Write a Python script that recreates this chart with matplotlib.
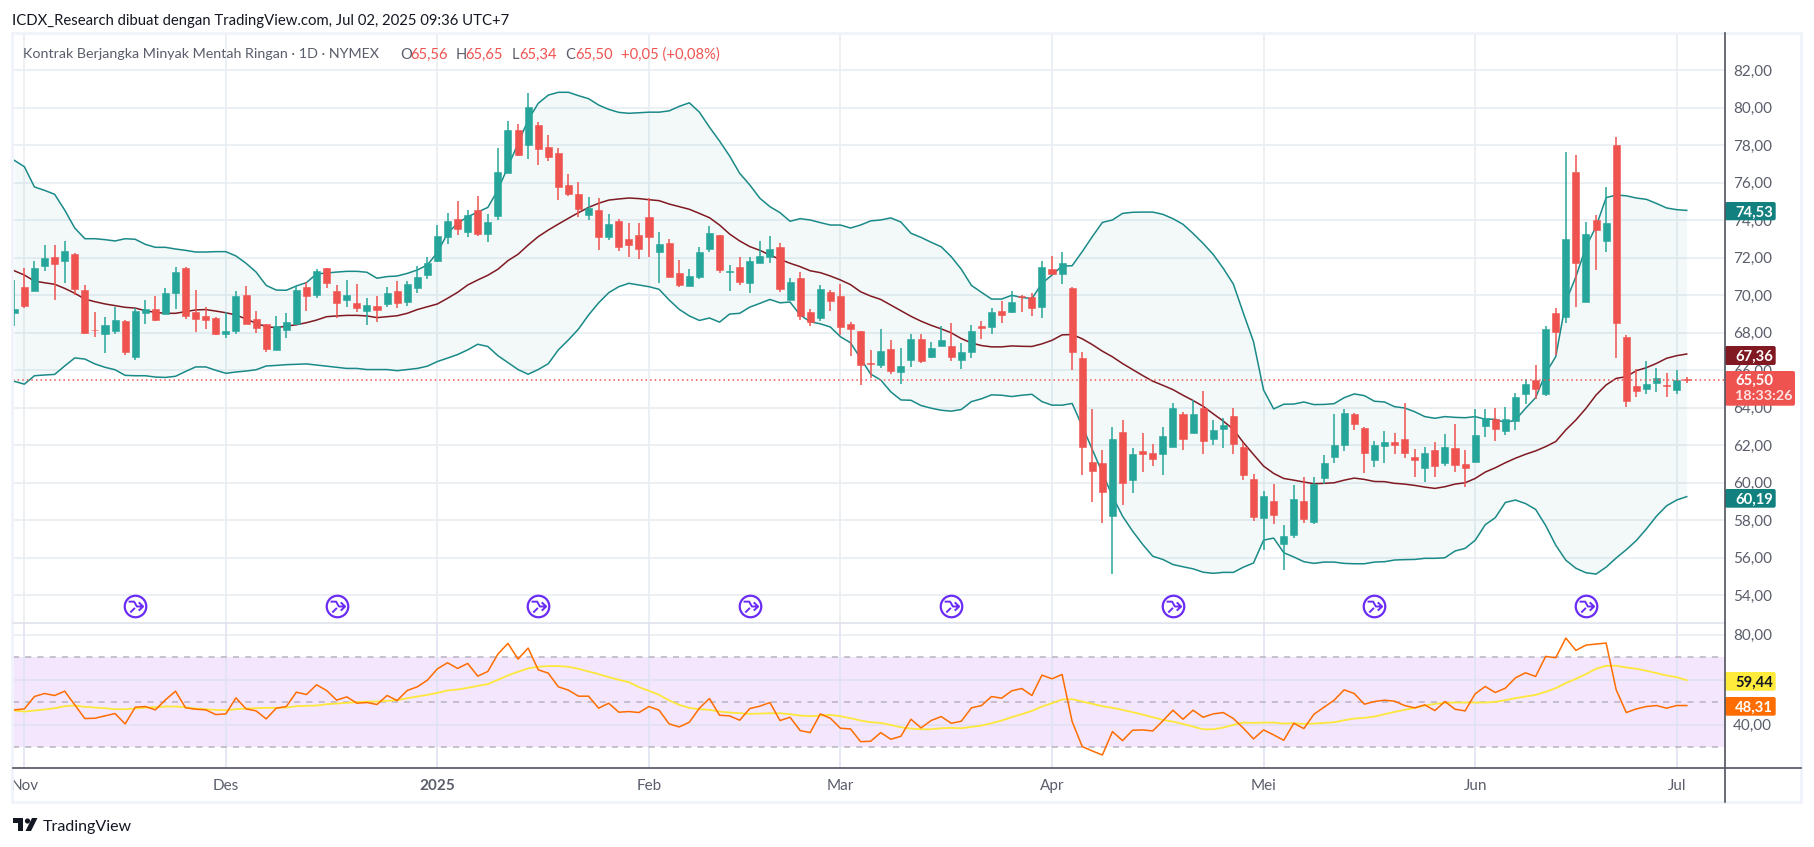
import matplotlib
matplotlib.use("Agg")
import matplotlib.pyplot as plt
import numpy as np
from matplotlib.patches import Rectangle, FancyBboxPatch, Polygon, Circle
from matplotlib.path import Path

# daily candles
opens = [69.07,70.46,70.25,71.59,72.07,71.85,72.23,70.3,68.16,67.94,
         68.1,68.64,66.71,69.07,69.28,69.01,70.14,71.48,69.12,68.91,
         68.8,67.94,68.1,70.03,68.75,68.48,67.09,68.16,68.48,70.46,
         70.02,71.45,70.23,69.75,69.59,69.16,69.43,69.54,70.23,69.64,
         70.39,71.08,71.83,73.11,74.07,73.37,74.55,73.27,74.23,76.52,
         78.81,78.01,79.07,77.9,77.58,75.88,75.4,74.28,74.55,73.11,
         73.97,73.0,73.22,74.18,72.31,72.79,71.19,70.5,70.98,72.47,
         73.22,71.26,71.51,70.66,71.72,72.04,72.58,69.75,70.92,69.11,
         68.79,70.17,69.96,68.47,68.09,66.37,66.28,67.13,65.9,66.57,
         67.69,66.73,67.32,67.32,66.57,67.0,68.39,68.33,69.19,69.13,
         69.97,69.93,69.4,71.43,71.16,70.41,66.68,61.13,61.03,58.25,
         62.73,60.17,61.72,61.61,61.51,61.93,63.69,62.68,64.01,62.31,
         62.85,63.54,61.89,60.18,58.1,59.01,56.71,57.19,59.01,57.89,
         60.23,61.35,62.01,63.65,62.9,61.19,61.94,62.15,62.31,61.35,
         60.77,61.73,61.03,61.83,60.98,61.09,63.01,63.38,62.74,63.3,
         64.74,65.48,64.72,69.08,68.87,76.58,69.62,74.03,72.91,78.02,
         67.75,65.15,64.99,65.31,65.2,64.93,65.56]
highs = [70.84,71.46,71.85,72.71,72.66,72.92,72.28,70.57,69.12,68.85,
         69.39,68.69,69.35,69.76,69.98,70.41,71.53,71.53,70.3,69.39,
         68.85,69.12,70.25,70.51,69.17,68.48,68.91,69.07,70.51,70.73,
         71.4,71.45,70.55,70.82,70.6,69.86,69.96,70.44,70.76,70.76,
         71.56,72.04,73.75,74.39,75.03,74.55,75.29,74.33,77.85,79.29,
         79.13,80.78,79.23,78.54,77.85,76.46,76.04,75.24,75.19,74.33,
         74.07,73.86,73.86,75.19,73.38,73.0,71.88,71.4,72.58,73.7,
         73.22,71.62,72.04,72.04,72.9,73.16,72.79,70.92,71.24,69.27,
         70.55,70.28,70.6,68.57,68.09,67.08,68.2,67.61,67.19,67.91,
         67.96,67.53,68.39,68.55,67.48,68.44,68.65,69.35,69.72,70.25,
         70.0,70.15,71.85,72.12,72.33,70.47,66.95,63.91,61.77,62.95,
         63.37,61.88,62.68,62.09,63.0,64.23,63.8,64.39,64.87,63.33,
         63.43,63.97,62.1,60.45,59.54,59.91,57.73,59.86,60.29,60.29,
         61.46,63.65,63.91,63.7,62.95,62.21,62.74,62.63,64.23,61.78,
         61.89,62.15,62.58,63.11,61.73,63.91,63.91,63.97,64.02,64.77,
         65.52,66.3,68.39,69.3,77.65,77.49,73.92,74.3,75.79,78.45,
         67.86,66.05,66.48,66.1,65.84,66.0,65.65]
lows = [68.34,69.35,70.25,71.32,69.76,70.67,70.03,67.94,67.78,66.93,
        67.94,66.82,66.55,68.48,68.64,69.01,69.28,68.75,68.05,68.21,
        67.89,67.73,67.94,68.48,68.0,66.98,67.09,67.73,68.48,69.17,
        69.86,70.39,68.79,69.38,69.11,68.42,68.58,69.38,69.32,69.43,
        70.12,70.87,71.77,72.73,73.21,73.11,73.16,72.84,74.01,76.52,
        77.42,77.26,76.94,77.16,75.08,75.29,74.17,74.01,72.41,72.95,
        72.36,72.04,71.94,72.04,70.66,70.98,70.44,70.5,70.87,72.31,
        71.19,70.23,70.55,70.12,71.72,71.72,70.17,69.75,68.68,68.36,
        68.63,69.16,67.88,66.76,65.21,65.58,66.12,65.8,65.26,66.2,
        66.41,66.63,67.27,66.47,66.09,66.68,67.69,67.96,68.55,69.08,
        69.13,68.92,68.81,71.16,70.63,65.99,60.44,58.95,57.88,55.11,
        58.79,59.43,60.6,60.92,60.44,61.93,61.77,62.68,61.56,61.99,
        61.83,61.51,60.13,57.94,56.39,57.78,55.33,57.03,57.83,57.78,
        59.91,61.03,61.67,62.79,60.5,60.82,61.03,61.51,61.3,60.29,
        60.02,60.29,60.87,60.55,59.75,61.09,62.42,62.21,62.53,62.82,
        64.2,64.46,64.62,66.8,68.5,69.4,69.62,71.37,72.33,66.64,
        64.03,64.56,64.72,64.83,64.56,64.72,65.34]
closes = [69.28,69.44,71.48,72.01,71.69,72.39,70.35,68.0,68.14,68.42,
          68.69,66.98,69.17,69.28,68.69,70.14,71.26,68.91,68.75,68.69,
          67.94,68.1,69.98,68.48,68.26,67.14,68.37,68.59,70.3,69.98,
          71.29,70.66,69.59,70.02,69.32,69.48,69.22,70.12,69.59,70.6,
          70.98,71.72,73.16,73.96,73.53,74.28,73.27,73.91,76.57,78.81,
          77.48,80.03,77.8,77.37,75.77,75.4,74.6,74.65,73.11,73.8,
          72.58,72.68,72.47,73.11,72.74,70.98,70.55,71.03,72.31,73.32,
          71.35,71.3,70.71,71.83,72.1,72.47,70.34,70.71,68.9,68.57,
          70.34,69.69,68.31,68.2,66.28,66.35,67.03,65.96,66.23,67.69,
          66.52,67.21,67.59,66.73,66.95,68.12,68.28,69.13,68.97,69.67,
          69.92,69.35,71.53,71.16,71.75,66.95,61.93,60.65,59.53,62.36,
          60.01,61.51,61.51,61.29,62.47,64.01,62.36,63.69,62.25,62.79,
          63.06,62.05,60.39,58.15,59.27,58.26,57.14,59.11,58.05,59.91,
          61.03,62.03,63.7,63.11,61.57,62.01,62.15,62.01,61.57,61.19,
          61.57,60.87,61.89,60.93,60.77,62.53,63.43,62.85,63.38,64.56,
          65.27,64.99,68.18,68.02,73.02,71.74,73.29,73.5,73.87,68.5,
          64.35,64.88,65.26,65.57,65.17,65.47,65.5]

# bollinger bands
bb_upper = [77.2,76.86,75.78,75.6,75.39,74.55,73.59,73.02,73.02,72.97,
            72.9,73.02,72.99,72.72,72.56,72.56,72.47,72.4,72.31,72.31,
            72.33,72.33,72.1,71.71,71.24,70.53,70.28,70.27,70.5,70.68,
            71.14,71.19,71.24,71.28,71.28,71.23,70.91,71.0,71.03,71.17,
            71.35,71.62,72.29,73.31,73.84,74.19,74.44,74.69,75.62,76.86,
            78.1,79.35,80.24,80.68,80.83,80.83,80.65,80.49,80.15,79.92,
            79.76,79.71,79.74,79.77,79.77,79.84,80.08,80.27,79.77,78.97,
            78.23,77.43,76.51,75.89,75.18,74.73,74.41,73.95,74.09,74.02,
            73.88,73.75,73.75,73.59,73.75,73.97,74.02,74.13,73.91,73.31,
            73.09,72.83,72.59,72.06,71.39,70.53,70.16,69.8,69.8,70.0,
            69.89,69.82,70.64,71.08,71.56,71.58,72.33,73.13,73.89,74.02,
            74.37,74.43,74.44,74.44,74.32,74.09,73.79,73.3,72.77,72.18,
            71.44,70.6,69.04,67.53,64.95,63.94,64.19,64.2,64.31,64.17,
            64.18,64.22,64.54,64.74,64.65,64.35,64.31,64.06,63.99,63.79,
            63.53,63.44,63.53,63.49,63.47,63.53,63.39,63.39,63.21,63.35,
            63.97,64.54,65.84,66.73,69.66,70.99,72.59,73.66,75.21,75.35,
            75.31,75.19,75.12,74.9,74.66,74.57,74.53]
bb_basis = [71.31,71.08,70.76,70.67,70.59,70.37,70.11,69.8,69.66,69.54,
            69.45,69.36,69.32,69.18,69.09,69.04,69.04,69.13,69.22,69.24,
            69.16,69.07,68.95,68.74,68.51,68.33,68.27,68.36,68.43,68.54,
            68.68,68.86,68.9,68.93,68.93,68.9,68.81,68.86,68.91,69.04,
            69.24,69.39,69.54,69.84,70.16,70.55,70.82,71.07,71.39,71.85,
            72.19,72.68,73.13,73.48,73.8,74.11,74.41,74.69,74.91,75.08,
            75.14,75.19,75.16,75.1,75.05,74.87,74.73,74.59,74.37,74.14,
            73.75,73.27,72.9,72.6,72.4,72.15,71.92,71.71,71.53,71.31,
            71.21,71.03,70.82,70.57,70.19,69.96,69.78,69.48,69.18,68.88,
            68.62,68.4,68.21,68.0,67.69,67.46,67.32,67.25,67.25,67.3,
            67.28,67.27,67.41,67.6,67.89,67.91,67.68,67.37,67.02,66.72,
            66.36,66.04,65.72,65.42,65.2,64.97,64.67,64.39,64.08,63.68,
            63.29,62.85,62.14,61.51,60.89,60.5,60.23,60.14,60.04,59.95,
            59.97,60.0,60.14,60.25,60.18,60.07,60.06,59.97,59.93,59.86,
            59.77,59.7,59.79,59.93,60.0,60.23,60.57,60.8,61.07,61.31,
            61.52,61.7,61.93,62.2,62.82,63.35,63.97,64.68,65.22,65.57,
            65.66,65.98,66.14,66.37,66.64,66.78,66.87]
bb_lower = [65.41,65.26,65.71,65.75,65.78,66.23,66.66,66.6,66.34,66.16,
            66.03,65.73,65.71,65.71,65.64,65.62,65.68,65.94,66.18,66.18,
            66.0,65.84,65.91,65.96,66.03,66.23,66.26,66.3,66.32,66.34,
            66.28,66.22,66.16,66.1,66.1,66.04,66.04,66.04,65.98,66.04,
            66.1,66.22,66.47,66.65,66.84,67.09,67.39,67.27,66.78,66.41,
            66.04,65.79,66.04,66.35,67.09,67.62,68.2,68.95,69.6,70.14,
            70.46,70.64,70.55,70.46,70.32,69.75,69.25,68.9,68.66,68.79,
            68.57,69.0,69.04,69.37,69.57,69.78,69.6,69.64,68.95,68.59,
            68.48,68.31,67.79,67.47,66.63,65.8,65.48,64.85,64.42,64.4,
            64.12,63.98,63.87,63.82,63.91,64.33,64.48,64.69,64.67,64.6,
            64.67,64.72,64.33,64.14,64.14,64.23,63.02,61.77,60.53,59.28,
            58.22,57.42,56.71,56.08,55.91,55.64,55.52,55.41,55.23,55.17,
            55.22,55.22,55.5,55.72,56.94,57.05,56.27,56.04,55.79,55.7,
            55.77,55.77,55.7,55.68,55.68,55.77,55.79,55.88,55.9,55.91,
            55.97,55.97,56.0,56.36,56.5,56.93,57.76,58.14,58.95,59.08,
            58.89,58.58,57.72,56.67,55.87,55.44,55.2,55.13,55.5,55.99,
            56.43,56.92,57.54,58.22,58.77,59.08,59.26]

# rsi pane
rsi = [46.58,47.02,52.5,53.84,52.95,54.87,48.8,42.73,42.87,43.91,
       44.95,40.35,47.76,48.06,46.58,51.02,54.87,47.47,46.87,46.58,
       44.5,44.8,51.91,47.02,46.13,42.58,47.32,48.06,54.43,53.39,
       57.69,55.17,50.87,52.35,49.54,49.84,48.95,52.95,50.73,55.17,
       56.8,59.76,64.8,67.47,64.95,67.17,61.54,63.61,71.32,76.06,
       69.09,73.98,64.36,62.87,56.8,55.32,52.65,52.65,47.32,49.54,
       45.54,45.84,45.39,48.06,46.43,40.35,39.02,41.1,47.32,51.61,
       44.21,43.91,41.98,47.17,48.21,49.84,41.84,43.32,37.39,36.5,
       44.8,42.87,38.43,38.13,32.5,32.65,36.5,33.54,34.87,42.43,
       38.58,41.84,43.61,40.65,41.54,47.47,48.5,52.5,51.76,55.02,
       56.06,52.95,61.98,60.35,62.28,41.39,30.28,28.36,26.58,36.95,
       32.95,37.54,37.69,37.24,41.69,46.43,42.43,46.43,43.32,44.8,
       45.39,42.73,38.43,33.69,37.69,35.47,33.09,40.65,38.28,44.65,
       47.76,50.87,55.47,53.84,49.09,50.28,50.87,50.43,48.5,47.47,
       48.8,46.28,50.28,46.87,46.13,53.69,56.95,54.28,56.21,60.8,
       63.02,61.39,70.28,69.69,78.43,72.95,75.3,75.76,76.21,55.47,
       45.39,47.02,48.06,48.5,47.32,48.5,48.5]
rsi_ma = [46.28,45.84,46.28,46.73,47.32,48.21,48.5,47.91,47.61,47.32,
          46.87,46.87,47.17,47.61,47.76,48.06,48.06,47.76,47.17,46.87,
          46.58,46.43,46.87,47.17,47.32,47.47,47.47,47.61,48.21,48.35,
          48.5,49.09,49.39,49.69,49.98,50.28,50.28,50.58,50.87,51.76,
          52.5,53.24,54.13,55.17,55.61,56.36,57.24,57.98,59.91,61.84,
          63.47,64.95,65.69,65.98,65.98,65.69,64.8,63.61,62.43,61.09,
          59.91,58.87,56.65,55.02,53.24,50.73,48.8,47.47,46.87,46.58,
          45.84,45.39,45.09,44.8,44.95,45.09,45.09,44.65,44.06,43.76,
          44.06,44.36,43.76,42.87,41.84,41.1,40.8,39.91,38.87,38.28,
          37.98,37.98,38.43,38.58,38.43,39.02,39.61,40.65,41.84,43.32,
          44.65,46.13,48.06,49.54,51.17,51.32,50.28,49.24,48.21,47.47,
          46.58,45.54,44.5,43.32,42.13,41.39,40.35,39.17,37.98,37.98,
          38.73,39.91,40.95,40.8,40.95,40.95,40.5,40.65,40.35,40.5,
          40.8,41.1,41.98,42.73,43.02,43.61,44.65,45.69,46.58,47.47,
          48.5,49.24,49.69,49.84,49.84,49.84,49.84,50.13,50.87,51.76,
          52.5,53.24,54.58,56.21,58.43,60.35,62.43,64.8,66.13,66.13,
          65.39,64.8,63.91,62.87,61.84,61.09,59.76]

# axis ticks and markers
price_ticks = [54, 56, 58, 60, 62, 64, 66, 68, 70, 72, 74, 76, 78, 80, 82]
rsi_ticks = [40, 80]
rsi_grid = [40, 60, 80]
month_idx = [1, 21, 42, 63, 82, 103, 124, 145, 165]
month_labels = ["Nov", "Des", "2025", "Feb", "Mar", "Apr", "Mei", "Jun", "Jul"]
roll_idx = [12, 32, 52, 73, 93, 115, 135, 156]
last_close = 65.50

UP = "#26a69a"
DOWN = "#ef5350"
GRID = "#e8eef3"
BAND = "#1a8a88"
BASIS = "#801922"
TEXT = "#5a5e6b"
AXIS = "#50535e"
FONT = "Lato"

W, H = 1814, 847
plt.rcParams["font.family"] = [FONT, "DejaVu Sans"]


def box(left, top, right, bottom):
    # pixel box to figure fraction
    return [left / W, 1 - bottom / H, (right - left) / W, (bottom - top) / H]


def comma(v):
    return f"{v:.2f}".replace(".", ",")


fig = plt.figure(figsize=(W / 100, H / 100), dpi=100, facecolor="white")
ax = fig.add_axes(box(13, 34, 1724.7, 623))
ax2 = fig.add_axes(box(13, 623, 1724.7, 768.3), sharex=ax)

idx = np.arange(len(closes))
o = np.array(opens)
c = np.array(closes)
colors = [UP if c[i] >= o[i] else DOWN for i in idx]

# price pane
for tick in price_ticks:
    ax.axhline(tick, color=GRID, lw=1.2, zorder=0)
for m in month_idx:
    ax.axvline(m, color=GRID, lw=1.2, zorder=0)

ax.fill_between(idx, bb_upper, bb_lower, color="#0f8f88", alpha=0.05, lw=0, zorder=1)
ax.plot(idx, bb_upper, color=BAND, lw=1.1, zorder=2)
ax.plot(idx, bb_lower, color=BAND, lw=1.1, zorder=2)
ax.plot(idx, bb_basis, color=BASIS, lw=1.1, zorder=2)
ax.vlines(idx, lows, highs, colors=colors, lw=1.1, zorder=3)
ax.bar(idx, np.abs(c - o), bottom=np.minimum(o, c), width=0.7, color=colors,
       edgecolor=colors, linewidth=0.4, zorder=4)
ax.axhline(last_close, color=DOWN, lw=1.1, ls=(0, (1, 2)), zorder=5)

# roll markers near the bottom of the price pane
roll_y = [53.42] * len(roll_idx)
glyph = Path([(-0.6, 0.42), (-0.12, 0.42), (0.12, 0.0), (0.62, 0.0),
              (-0.45, -0.52), (-0.05, -0.12),
              (0.28, 0.36), (0.66, 0.0), (0.28, -0.36)],
             [Path.MOVETO, Path.LINETO, Path.LINETO, Path.LINETO,
              Path.MOVETO, Path.LINETO,
              Path.MOVETO, Path.LINETO, Path.LINETO])
ax.plot(roll_idx, roll_y, ls="", marker="o", ms=15.5, mfc="white", mec="#6a2cf5",
        mew=1.6, zorder=6)
ax.plot(roll_idx, roll_y, ls="", marker=glyph, ms=11, mfc="none", mec="#6a2cf5",
        mew=1.4, zorder=7)

ax.set_xlim(-0.13, 169.77)
ax.set_ylim(52.52, 83.94)
ax.yaxis.tick_right()
ax.set_yticks(price_ticks)
ax.set_yticklabels([comma(t) for t in price_ticks], fontsize=11, color=TEXT,
                   va="center_baseline")
ax.tick_params(axis="y", length=0, pad=6)
ax.tick_params(axis="x", length=0, labelbottom=False)
for s in ax.spines.values():
    s.set_visible(False)

# rsi pane
ax2.axhspan(30, 70, color="#f3e6fd", lw=0, zorder=1)
for tick in rsi_grid:
    ax2.axhline(tick, color="#e2e0f2" if tick < 70 else GRID, lw=1.2, zorder=1.5)
for m in month_idx:
    ax2.axvline(m, color="#e0e4f2", lw=1.2, zorder=1.5)
for level in [30, 50, 70]:
    ax2.axhline(level, color="#b8b3c0", lw=1.1, ls=(0, (4, 4)), zorder=2)
ax2.plot(idx, rsi_ma, color="#fde73c", lw=1.3, zorder=3)
ax2.plot(idx, rsi, color="#ff6d00", lw=1.1, zorder=4)
ax2.set_ylim(20.67, 85.1)
ax2.yaxis.tick_right()
ax2.set_yticks(rsi_ticks)
ax2.set_yticklabels([comma(t) for t in rsi_ticks], fontsize=11, color=TEXT,
                    va="center_baseline")
ax2.tick_params(axis="y", length=0, pad=6)
ax2.set_xticks(month_idx)
ax2.set_xticklabels(month_labels, fontsize=11, color=TEXT)
ax2.get_xticklabels()[2].set_fontweight("bold")
ax2.tick_params(axis="x", length=0, pad=8)
for s in ax2.spines.values():
    s.set_visible(False)

# pixel overlay for frame, labels and header text
over = fig.add_axes([0, 0, 1, 1], zorder=10)
over.set_xlim(0, W)
over.set_ylim(H, 0)
over.axis("off")
over.patch.set_alpha(0)

over.add_patch(Rectangle((12, 33), 1789, 769, fill=False, ec="#f0f3fa", lw=2))
over.plot([13, 1724.7], [623, 623], color="#e0e3eb", lw=1.2)
over.plot([1724.7, 1724.7], [33, 802], color=AXIS, lw=1.2)
over.plot([13, 1801], [768.3, 768.3], color=AXIS, lw=1.2)


def label(top, bottom, right, color, text, tcolor="white"):
    over.add_patch(FancyBboxPatch((1725, top), right - 1725, bottom - top,
                                  boxstyle="round,pad=0,rounding_size=2",
                                  fc=color, ec="none"))
    if text:
        over.text(1735, (top + bottom) / 2, text, color=tcolor, fontsize=10.6,
                  va="center_baseline", fontweight="bold")


label(202, 220.3, 1775.7, "#138080", "74,53")
label(346, 365, 1775.7, BASIS, "67,36")
label(489, 507.7, 1775.7, "#138080", "60,19")
label(371, 405.7, 1795, DOWN, "")
over.text(1735, 379, "65,50", color="white", fontsize=10.6, va="center_baseline",
          fontweight="bold")
over.text(1735, 395.3, "18:33:26", color="#fde3e3", fontsize=10.4, va="center_baseline",
          fontweight="bold")
label(672, 690.7, 1775.7, "#ffeb3b", "59,44", "#131722")
label(697, 715.7, 1775.7, "#ff6d00", "48,31")

over.text(12, 20, "ICDX_Research dibuat dengan TradingView.com, Jul 02, 2025 09:36 UTC+7",
          color="#131722", fontsize=10.7, va="center_baseline")
over.text(23, 53.3, "Kontrak Berjangka Minyak Mentah Ringan · 1D · NYMEX",
          color=TEXT, fontsize=10.3, va="center_baseline")
header = [(400, "O", TEXT), (410, "65,56", DOWN), (456, "H", TEXT), (465, "65,65", DOWN),
          (512, "L", TEXT), (519, "65,34", DOWN), (565, "C", TEXT), (575, "65,50", DOWN),
          (621, "+0,05 (+0,08%)", DOWN)]
for x, s, col in header:
    over.text(x, 53.3, s, color=col, fontsize=10.6, va="center_baseline")

# TradingView logo
over.add_patch(Rectangle((13, 818), 10, 5, fc="#131722", ec="none"))
over.add_patch(Rectangle((18, 818), 5, 13, fc="#131722", ec="none"))
over.add_patch(Circle((27.5, 821), 2.6, fc="#131722", ec="none"))
over.add_patch(Polygon([(32, 818), (37.5, 818), (31, 831), (25.5, 831)], fc="#131722", ec="none"))
over.text(42.5, 825, "TradingView", color="#131722", fontsize=11.5, va="center_baseline")

fig.savefig("out.png", dpi=100, facecolor="white")
